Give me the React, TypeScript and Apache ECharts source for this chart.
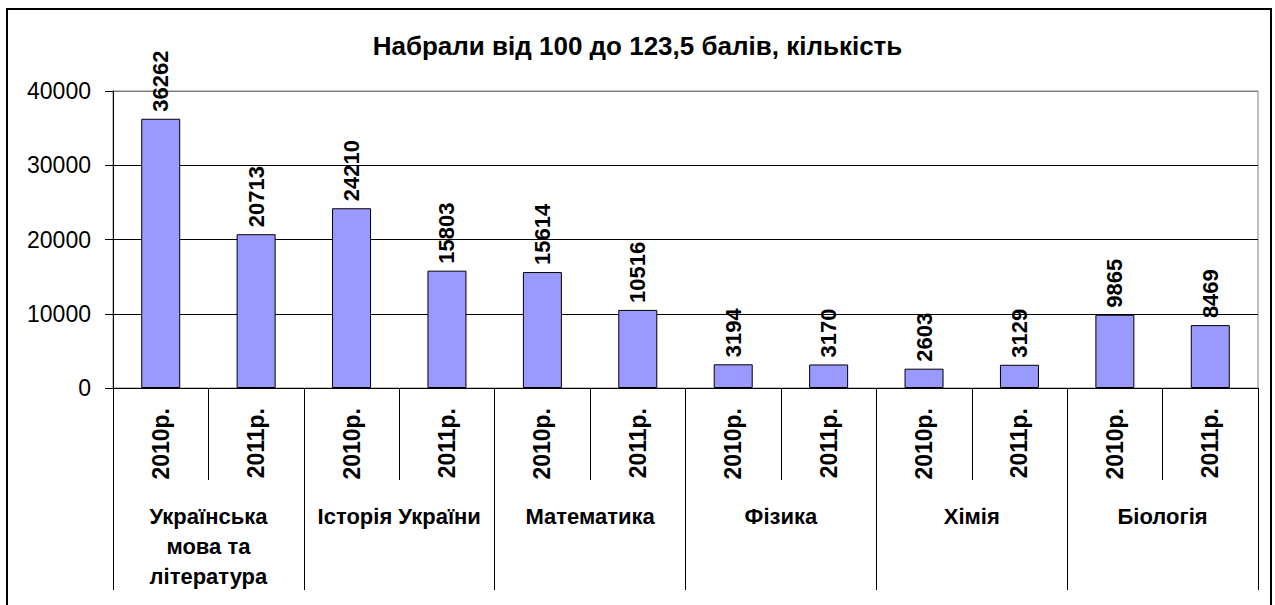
import React, { useEffect, useRef } from "react";
import * as echarts from "echarts";

const titleText = "Набрали від 100 до 123,5 балів, кількість";
const years = ["2010р.", "2011р."];
const subjects = [
  "Українська\nмова та\nлітература",
  "Історія України",
  "Математика",
  "Фізика",
  "Хімія",
  "Біологія",
];
const values = [36262, 20713, 24210, 15803, 15614, 10516, 3194, 3170, 2603, 3129, 9865, 8469];
const yTicks = [0, 10000, 20000, 30000, 40000];

const FONT = "'Liberation Sans', Arial, sans-serif";

export default function App() {
  const ref = useRef<HTMLDivElement>(null);
  useEffect(() => {
    if (!ref.current) return;
    const chart = echarts.init(ref.current, null, { renderer: "svg" });
    const yearCats: string[] = [];
    subjects.forEach(() => years.forEach((y) => yearCats.push(y)));
    chart.setOption({
      animation: false,
      backgroundColor: "#fff",
      textStyle: { fontFamily: FONT },
      title: {
        text: titleText,
        left: "center",
        top: 28,
        textStyle: { fontFamily: FONT, fontSize: 26, fontWeight: "bold", color: "#000" },
      },
      graphic: [
        {
          type: "rect",
          shape: { x: 7, y: 9, width: 1264, height: 700 },
          style: { fill: "none", stroke: "#000", lineWidth: 2 },
          silent: true,
        },
      ],
      grid: {
        left: 113,
        top: 91,
        right: 17,
        bottom: 217,
        show: true,
        borderColor: "#808080",
        borderWidth: 1,
        backgroundColor: "transparent",
      },
      xAxis: [
        {
          type: "category",
          data: yearCats,
          position: "bottom",
          axisLine: { show: true, lineStyle: { color: "#000", width: 1 } },
          axisTick: { show: true, length: 92, interval: 0, lineStyle: { color: "#000" } },
          axisLabel: {
            interval: 0,
            rotate: 90,
            margin: 20,
            fontFamily: FONT,
            fontSize: 23,
            fontWeight: "bold",
            color: "#000",
          },
        },
        {
          type: "category",
          data: subjects,
          position: "bottom",
          axisLine: { show: false },
          axisTick: { show: true, length: 202, interval: 0, lineStyle: { color: "#000" } },
          axisLabel: {
            interval: 0,
            margin: 113,
            fontFamily: FONT,
            fontSize: 22,
            fontWeight: "bold",
            color: "#000",
            lineHeight: 30,
            align: "center",
          },
        },
      ],
      yAxis: {
        type: "value",
        min: yTicks[0],
        max: yTicks[yTicks.length - 1],
        interval: 10000,
        axisLine: { show: true, lineStyle: { color: "#000", width: 1 } },
        axisTick: { show: true, length: 8, lineStyle: { color: "#000" } },
        axisLabel: {
          margin: 22,
          fontFamily: FONT,
          fontSize: 23,
          color: "#000",
          formatter: (v: number) => String(v),
        },
        splitLine: {
          show: true,
          lineStyle: { color: ["#000", "#000", "#000", "#000", "#808080"], width: 1 },
        },
      },
      series: [
        {
          type: "bar",
          xAxisIndex: 0,
          data: values,
          barWidth: 39,
          itemStyle: { color: "#9999FF", borderColor: "#000", borderWidth: 1 },
          label: {
            show: true,
            position: "top",
            rotate: 90,
            align: "left",
            verticalAlign: "middle",
            distance: 7,
            fontFamily: FONT,
            fontSize: 22,
            fontWeight: "bold",
            color: "#000",
          },
        },
      ],
    });
    return () => chart.dispose();
  }, []);
  return (
    <div
      ref={ref}
      style={{ position: "absolute", left: 0, top: 0, width: 1275, height: 605 }}
    />
  );
}
